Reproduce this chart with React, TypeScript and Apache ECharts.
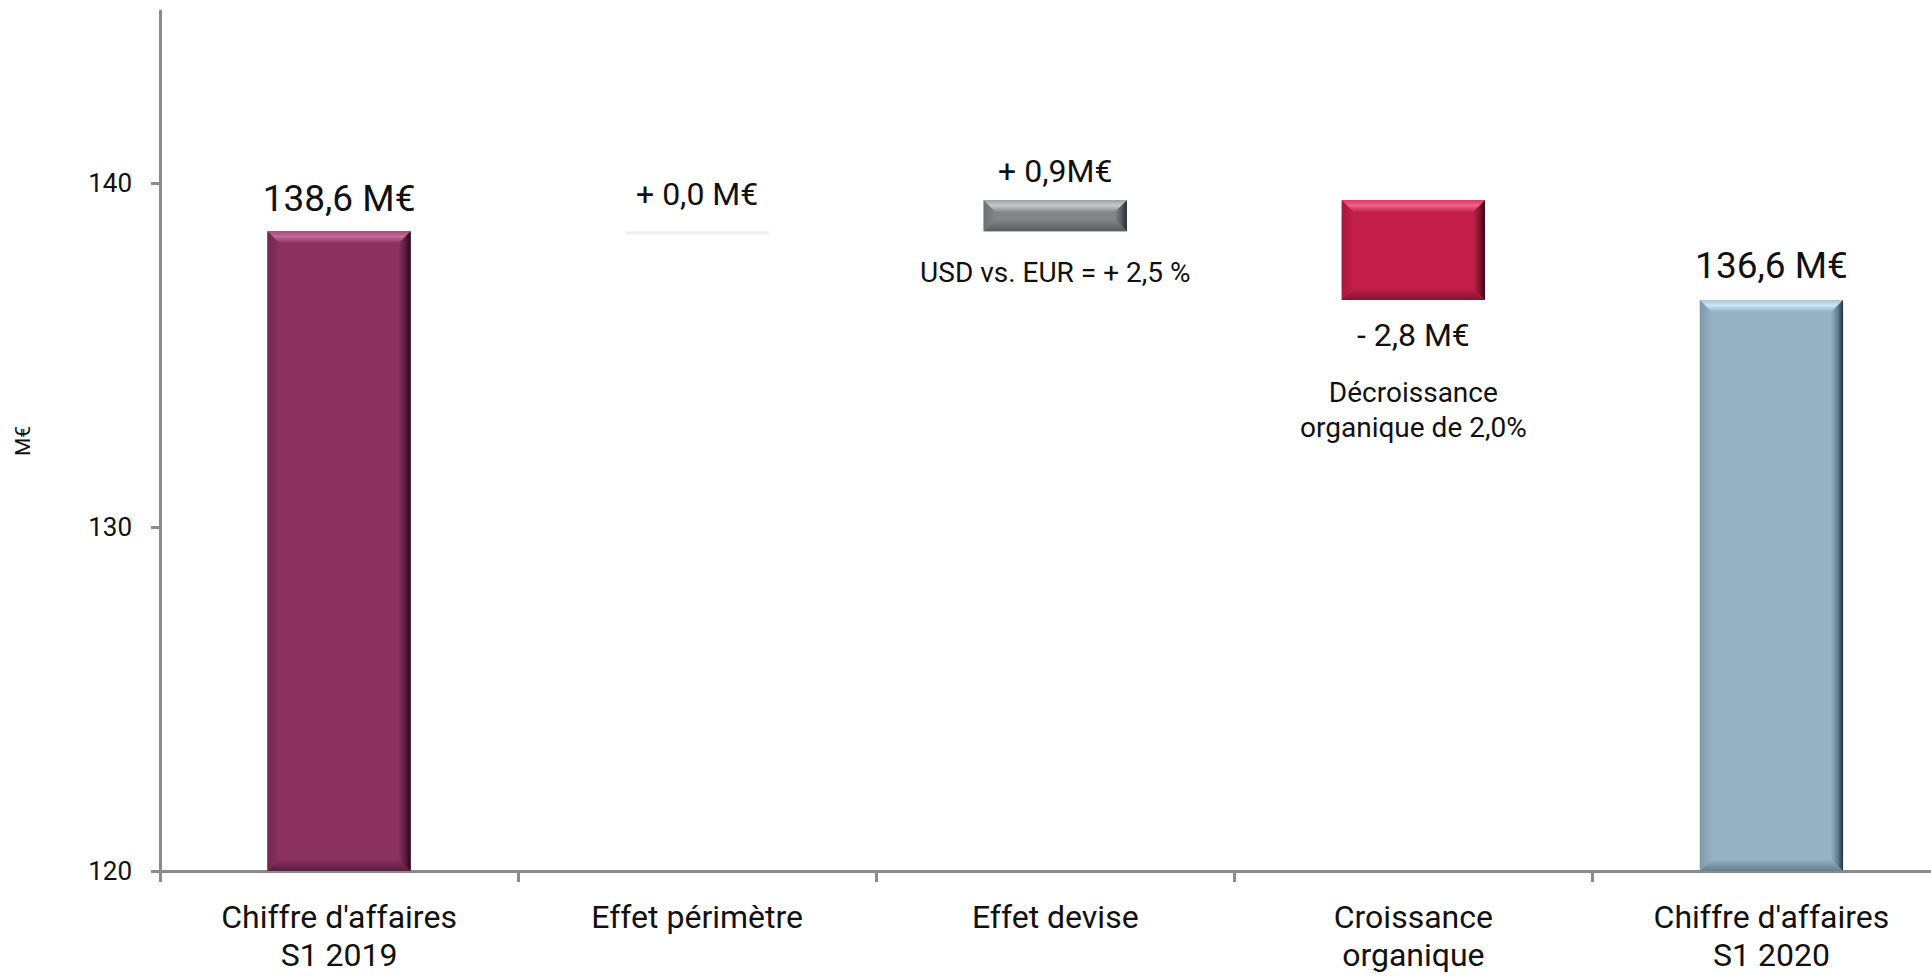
import React, { useEffect, useRef } from "react";
import * as echarts from "echarts";

// ---------- data ----------
const categories = [
  "Chiffre d'affaires\nS1 2019",
  "Effet périmètre",
  "Effet devise",
  "Croissance\norganique",
  "Chiffre d'affaires\nS1 2020",
];
const yMin = 120;
const yMax = 145;
const yTicks = [120, 130, 140];
const openingTotal = 138.6;
const closingTotal = 136.6;
const effects = [0.0, 0.9, -2.8];
const valueLabels = ["138,6 M€", "+ 0,0 M€", "+ 0,9M€", "- 2,8 M€", "136,6 M€"];
const noteLabels = ["", "", "USD vs. EUR = + 2,5 %", "Décroissance\norganique de 2,0%", ""];

// bars as [categoryIndex, low, high]
const bars: number[][] = [];
bars.push([0, yMin, openingTotal]);
let cum = openingTotal;
effects.forEach((d, i) => {
  const start = cum;
  let end = +(cum + d).toFixed(1);
  if (i === effects.length - 1) end = closingTotal; // bridge closes on reported total
  bars.push([i + 1, Math.min(start, end), Math.max(start, end)]);
  cum = end;
});
bars.push([effects.length + 1, yMin, closingTotal]);

// ---------- styles ----------
type Pal = { base: string; light: string; edge: string; dark: string; bottom: string; left: string } | null;
const palettes: Pal[] = [
  { base: "#8A3160", light: "#C46C98", edge: "#A24A78", dark: "#240A18", bottom: "#5A1C3C", left: "#72264F" },
  null,
  { base: "#838688", light: "#C8CBCD", edge: "#9FA2A4", dark: "#2A2C2E", bottom: "#585B5D", left: "#6E7173" },
  { base: "#C41F4A", light: "#F0608A", edge: "#D83A62", dark: "#3A0614", bottom: "#861431", left: "#A6193E" },
  { base: "#95B2C4", light: "#C8E8F8", edge: "#A9C6D8", dark: "#22303A", bottom: "#667F8F", left: "#7D98A9" },
];
const labelFont = [37, 32, 32, 32, 37];
const labelGap = [33, 37, 29, 35, 34];
const noteGap = [0, 0, 41, 110, 0];
const FONT = "Roboto, 'Noto Sans', sans-serif";
const AXIS_COLOR = "#8C8C8C";
const TEXT_COLOR = "#111111";

function lg(x0: number, y0: number, x1: number, y1: number, stops: [number, string][]) {
  return new echarts.graphic.LinearGradient(
    x0, y0, x1, y1,
    stops.map(([offset, color]) => ({ offset, color }))
  );
}

function bevel(x: number, y: number, w: number, h: number, p: NonNullable<Pal>) {
  const b = Math.min(12, h / 2, w / 2);
  const r = x + w;
  const bt = y + h;
  return [
    { type: "rect", shape: { x, y, width: w, height: h }, style: { fill: p.base } },
    {
      type: "polygon",
      shape: { points: [[x, y], [r, y], [r - b, y + b], [x + b, y + b]] },
      style: { fill: lg(0, 0, 0, 1, [[0, p.edge], [0.45, p.light], [1, p.base]]) },
    },
    {
      type: "polygon",
      shape: { points: [[x, bt], [r, bt], [r - b, bt - b], [x + b, bt - b]] },
      style: { fill: lg(0, 0, 0, 1, [[0, p.base], [1, p.bottom]]) },
    },
    {
      type: "polygon",
      shape: { points: [[x, y], [x + b, y + b], [x + b, bt - b], [x, bt]] },
      style: { fill: lg(0, 0, 1, 0, [[0, p.left], [1, p.base]]) },
    },
    {
      type: "polygon",
      shape: { points: [[r, y], [r, bt], [r - b, bt - b], [r - b, y + b]] },
      style: { fill: lg(0, 0, 1, 0, [[0, p.base], [0.55, p.bottom], [1, p.dark]]) },
    },
  ];
}

export default function App() {
  const ref = useRef<HTMLDivElement>(null);
  useEffect(() => {
    if (!ref.current) return;
    const chart = echarts.init(ref.current, undefined, { renderer: "svg" });
    chart.setOption({
      animation: false,
      backgroundColor: "#ffffff",
      grid: { left: 160, right: 9.5, top: 11, bottom: 106, outerBoundsMode: "none", containLabel: false },
      xAxis: {
        type: "category",
        data: categories,
        axisLine: { show: true, lineStyle: { color: AXIS_COLOR, width: 3 } },
        axisTick: { show: true, length: 11, lineStyle: { color: AXIS_COLOR, width: 3 } },
        axisLabel: { fontSize: 32, lineHeight: 38, color: TEXT_COLOR, fontFamily: FONT, margin: 27, interval: 0 },
        splitLine: { show: false },
      },
      yAxis: {
        type: "value",
        min: yMin,
        max: yMax,
        name: "M€",
        nameLocation: "middle",
        nameRotate: 90,
        nameGap: 127,
        nameTextStyle: { fontSize: 21, color: TEXT_COLOR, fontFamily: FONT },
        axisLine: { show: true, lineStyle: { color: AXIS_COLOR, width: 3 } },
        axisTick: { show: true, length: 9, lineStyle: { color: AXIS_COLOR, width: 3 }, customValues: yTicks },
        axisLabel: { fontSize: 26, color: TEXT_COLOR, fontFamily: FONT, margin: 28, customValues: yTicks },
        splitLine: { show: false },
      },
      series: [
        {
          type: "custom",
          data: bars,
          encode: { x: 0, y: [1, 2] },
          clip: false,
          renderItem: (params: any, api: any) => {
            const i = params.dataIndex;
            const idx = api.value(0);
            const lo = api.value(1);
            const hi = api.value(2);
            const top = api.coord([idx, hi]);
            const bot = api.coord([idx, lo]);
            const w = api.size([1, 0])[0] * 0.4;
            const cx = top[0];
            const x = cx - w / 2;
            const y = top[1];
            const h = bot[1] - top[1];
            const pal = palettes[i];
            const children: any[] = [];
            if (!pal || h < 1) {
              children.push({ type: "rect", shape: { x, y, width: w, height: 3 }, style: { fill: "#EEEEEE" } });
            } else {
              children.push(...bevel(x, y, w, h, pal));
            }
            const isNegative = i > 0 && i < categories.length - 1 && effects[i - 1] < 0;
            const ly = isNegative ? bot[1] + labelGap[i] : top[1] - labelGap[i];
            children.push({
              type: "text",
              x: cx,
              y: ly,
              style: {
                text: valueLabels[i],
                fill: TEXT_COLOR,
                fontSize: labelFont[i],
                fontFamily: FONT,
                align: "center",
                verticalAlign: "middle",
              },
            });
            if (noteLabels[i]) {
              children.push({
                type: "text",
                x: cx,
                y: bot[1] + noteGap[i],
                style: {
                  text: noteLabels[i],
                  fill: TEXT_COLOR,
                  fontSize: 28,
                  lineHeight: 35,
                  fontFamily: FONT,
                  align: "center",
                  verticalAlign: "middle",
                },
              });
            }
            return { type: "group", children };
          },
        },
      ],
    });
    return () => chart.dispose();
  }, []);
  return (
    <div
      ref={ref}
      style={{ position: "fixed", left: 0, top: 0, width: 1960, height: 977, background: "#fff" }}
    />
  );
}
